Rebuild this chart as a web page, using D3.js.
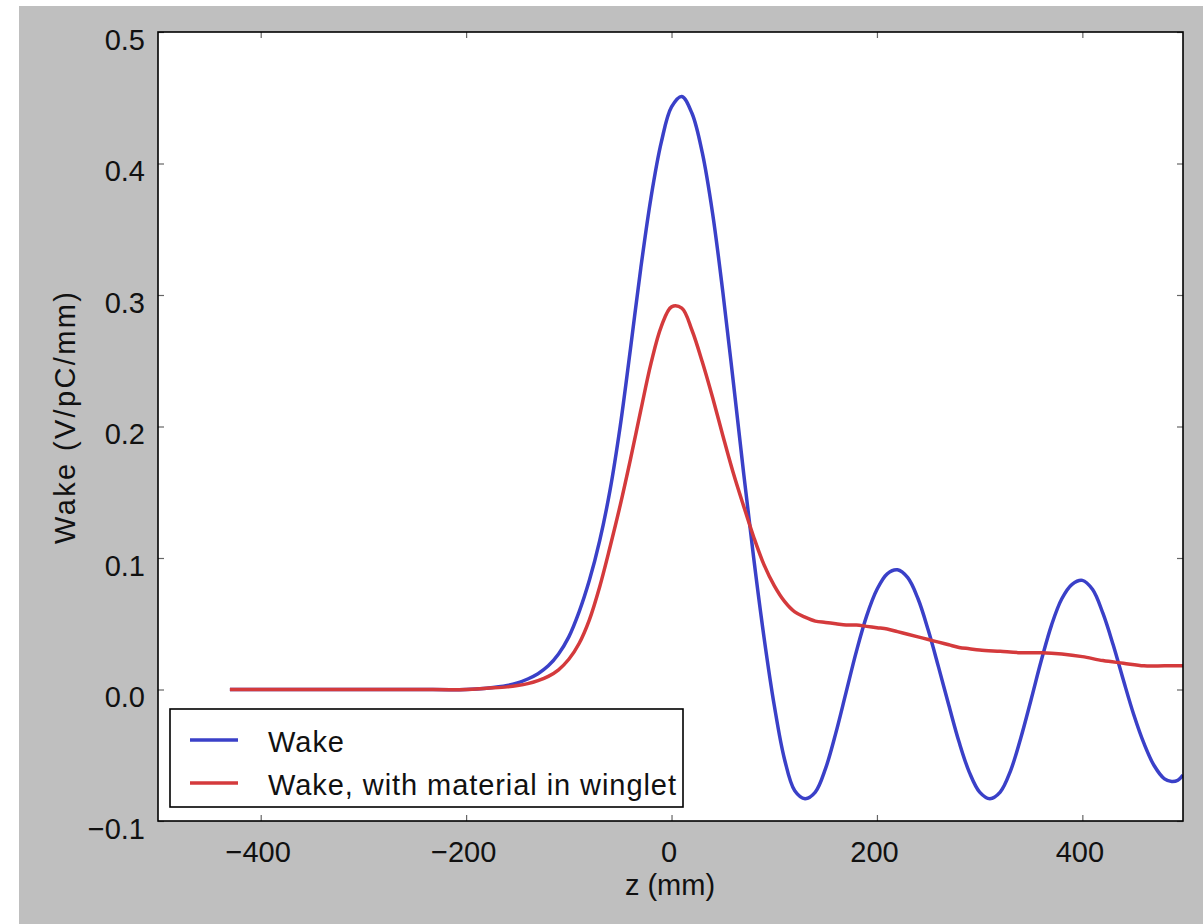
<!DOCTYPE html>
<html>
<head>
<meta charset="utf-8">
<script src="https://cdn.jsdelivr.net/npm/d3@7/dist/d3.min.js"></script>
<style>
  html, body { margin: 0; padding: 0; background: #ffffff; }
  svg { display: block; }
  text { font-family: "Liberation Sans", Arial, Helvetica, sans-serif; fill: #111; }
</style>
</head>
<body>
<svg id="chart" width="1203" height="924"></svg>
<script>
// Longitudinal wake potential vs. position z (mm)
const zWake = [-430, -400, -300, -250, -200, -180, -160, -150, -140, -130, -120, -110, -100, -90, -80, -70, -60, -50,
  -40, -30, -20, -10, 0, 10, 20, 30, 40, 50, 60, 70, 80, 90, 100, 110, 120, 130, 140, 150, 160, 170, 180, 190,
  200, 210, 220, 230, 240, 250, 260, 270, 280, 290, 300, 310, 320, 330, 340, 350, 360, 370, 380, 390, 400,
  410, 420, 430, 440, 450, 460, 470, 480, 487, 493, 498];
const wake = [0, 0, 0, 0, 0.000, 0.001, 0.003, 0.005, 0.008, 0.012, 0.018, 0.027, 0.040, 0.059, 0.083, 0.113, 0.151, 0.200,
  0.259, 0.320, 0.374, 0.416, 0.443, 0.451, 0.438, 0.408, 0.362, 0.302, 0.235, 0.166, 0.100, 0.040, -0.012, -0.053, -0.077, -0.083, -0.078, -0.060, -0.033, -0.002, 0.029, 0.056,
  0.076, 0.088, 0.091, 0.085, 0.069, 0.045, 0.017, -0.012, -0.040, -0.063, -0.078, -0.083, -0.078, -0.062, -0.037, -0.008, 0.022, 0.049, 0.069, 0.080, 0.083,
  0.076, 0.058, 0.034, 0.007, -0.019, -0.041, -0.058, -0.068, -0.070, -0.069, -0.065];

const zWinglet = [-430, -400, -300, -250, -200, -180, -160, -150, -140, -130, -120, -110, -100, -90, -80, -70, -60, -50,
  -40, -30, -20, -10, 0, 10, 20, 30, 40, 50, 60, 70, 80, 90, 100, 110, 120, 130, 140, 150, 160, 170, 180, 190,
  200, 210, 220, 230, 240, 250, 260, 270, 280, 290, 300, 320, 340, 360, 380, 400, 420, 440, 460, 480, 498];
const wakeWinglet = [0, 0, 0, 0, 0.000, 0.001, 0.002, 0.003, 0.0045, 0.0068, 0.010, 0.015, 0.023, 0.035, 0.053, 0.078, 0.108, 0.140,
  0.175, 0.212, 0.248, 0.276, 0.291, 0.290, 0.273, 0.249, 0.222, 0.193, 0.165, 0.140, 0.116, 0.095, 0.079, 0.067, 0.059, 0.055, 0.052, 0.051, 0.050, 0.049, 0.049, 0.048,
  0.047, 0.046, 0.044, 0.042, 0.040, 0.038, 0.036, 0.034, 0.032, 0.031, 0.030, 0.029, 0.028, 0.028, 0.027, 0.025, 0.022, 0.020, 0.018, 0.018, 0.018];

const xTicks = [-400, -200, 0, 200, 400];
const yTicks = [-0.1, 0.0, 0.1, 0.2, 0.3, 0.4, 0.5];
const seriesNames = ["Wake", "Wake, with material in winglet"];
const seriesColors = ["#3a40c8", "#d43a3c"];

const svg = d3.select("#chart");
const W = 1203, H = 924;
const plot = { left: 158, right: 1183, top: 32, bottom: 821 };
const fontSize = 29;

// figure background
svg.append("rect").attr("x", 19).attr("y", 6).attr("width", W - 19).attr("height", H - 6).attr("fill", "#bfbfbf");

const x = d3.scaleLinear().domain([-500, 498]).range([plot.left, plot.right]);
const y = d3.scaleLinear().domain([-0.1, 0.5]).range([plot.bottom, plot.top]);

// axes background
svg.append("rect")
  .attr("x", plot.left).attr("y", plot.top)
  .attr("width", plot.right - plot.left).attr("height", plot.bottom - plot.top)
  .attr("fill", "#ffffff");

svg.append("clipPath").attr("id", "clip").append("rect")
  .attr("x", plot.left).attr("y", plot.top)
  .attr("width", plot.right - plot.left).attr("height", plot.bottom - plot.top);

// inward ticks on all four sides
const tickLen = 6;
const fmtY = d3.format(".1f");
const fmtX = d3.format("d");

const gBottom = svg.append("g").attr("transform", `translate(0,${plot.bottom})`)
  .call(d3.axisBottom(x).tickValues(xTicks).tickSize(-tickLen).tickFormat(fmtX));
const gTop = svg.append("g").attr("transform", `translate(0,${plot.top})`)
  .call(d3.axisTop(x).tickValues(xTicks).tickSize(-tickLen).tickFormat(""));
const gLeft = svg.append("g").attr("transform", `translate(${plot.left},0)`)
  .call(d3.axisLeft(y).tickValues(yTicks).tickSize(-tickLen).tickFormat(fmtY));
const gRight = svg.append("g").attr("transform", `translate(${plot.right},0)`)
  .call(d3.axisRight(y).tickValues(yTicks).tickSize(-tickLen).tickFormat(""));

[gBottom, gTop, gLeft, gRight].forEach(g => {
  g.select(".domain").remove();
  g.selectAll(".tick line").attr("stroke", "#666").attr("stroke-width", 1.2);
  g.selectAll(".tick text").attr("font-size", fontSize).attr("fill", "#111")
    .style("font-family", '"Liberation Sans", Arial, sans-serif');
});
// bottom labels: baseline 41px below the frame, nudged slightly left
gBottom.selectAll(".tick text").attr("x", -3).attr("y", 41).attr("dy", null);
// left labels: right edge 13px left of the frame, baseline 17px below the tick
gLeft.selectAll(".tick text").attr("x", -13).attr("y", 17).attr("dy", null);

// data lines
const line = d3.line().curve(d3.curveCatmullRom.alpha(0.5));
const lines = svg.append("g").attr("clip-path", "url(#clip)");
lines.append("path")
  .attr("d", line(zWake.map((z, i) => [x(z), y(wake[i])])))
  .attr("fill", "none").attr("stroke", seriesColors[0]).attr("stroke-width", 3.5)
  .attr("stroke-linejoin", "round");
lines.append("path")
  .attr("d", line(zWinglet.map((z, i) => [x(z), y(wakeWinglet[i])])))
  .attr("fill", "none").attr("stroke", seriesColors[1]).attr("stroke-width", 3.5)
  .attr("stroke-linejoin", "round");

// frame
svg.append("rect")
  .attr("x", plot.left).attr("y", plot.top)
  .attr("width", plot.right - plot.left).attr("height", plot.bottom - plot.top)
  .attr("fill", "none").attr("stroke", "#000").attr("stroke-width", 1.6);

// axis labels
svg.append("text").attr("x", 670).attr("y", 895).attr("text-anchor", "middle")
  .attr("font-size", fontSize).text("z (mm)");
svg.append("text").attr("transform", "translate(75,418) rotate(-90)").attr("text-anchor", "middle")
  .attr("font-size", fontSize).attr("textLength", 252).attr("lengthAdjust", "spacing")
  .text("Wake (V/pC/mm)");

// legend
const legend = svg.append("g");
legend.append("rect").attr("x", 170).attr("y", 709).attr("width", 513).attr("height", 98)
  .attr("fill", "#fff").attr("stroke", "#000").attr("stroke-width", 1.6);
const legendWidths = [76, 408];
seriesNames.forEach((name, i) => {
  const ly = 740 + i * 43;
  legend.append("line").attr("x1", 190).attr("x2", 238).attr("y1", ly).attr("y2", ly)
    .attr("stroke", seriesColors[i]).attr("stroke-width", 3.5);
  legend.append("text").attr("x", 268).attr("y", ly + 12).attr("font-size", fontSize)
    .attr("textLength", legendWidths[i]).attr("lengthAdjust", "spacing").text(name);
});
</script>
</body>
</html>
